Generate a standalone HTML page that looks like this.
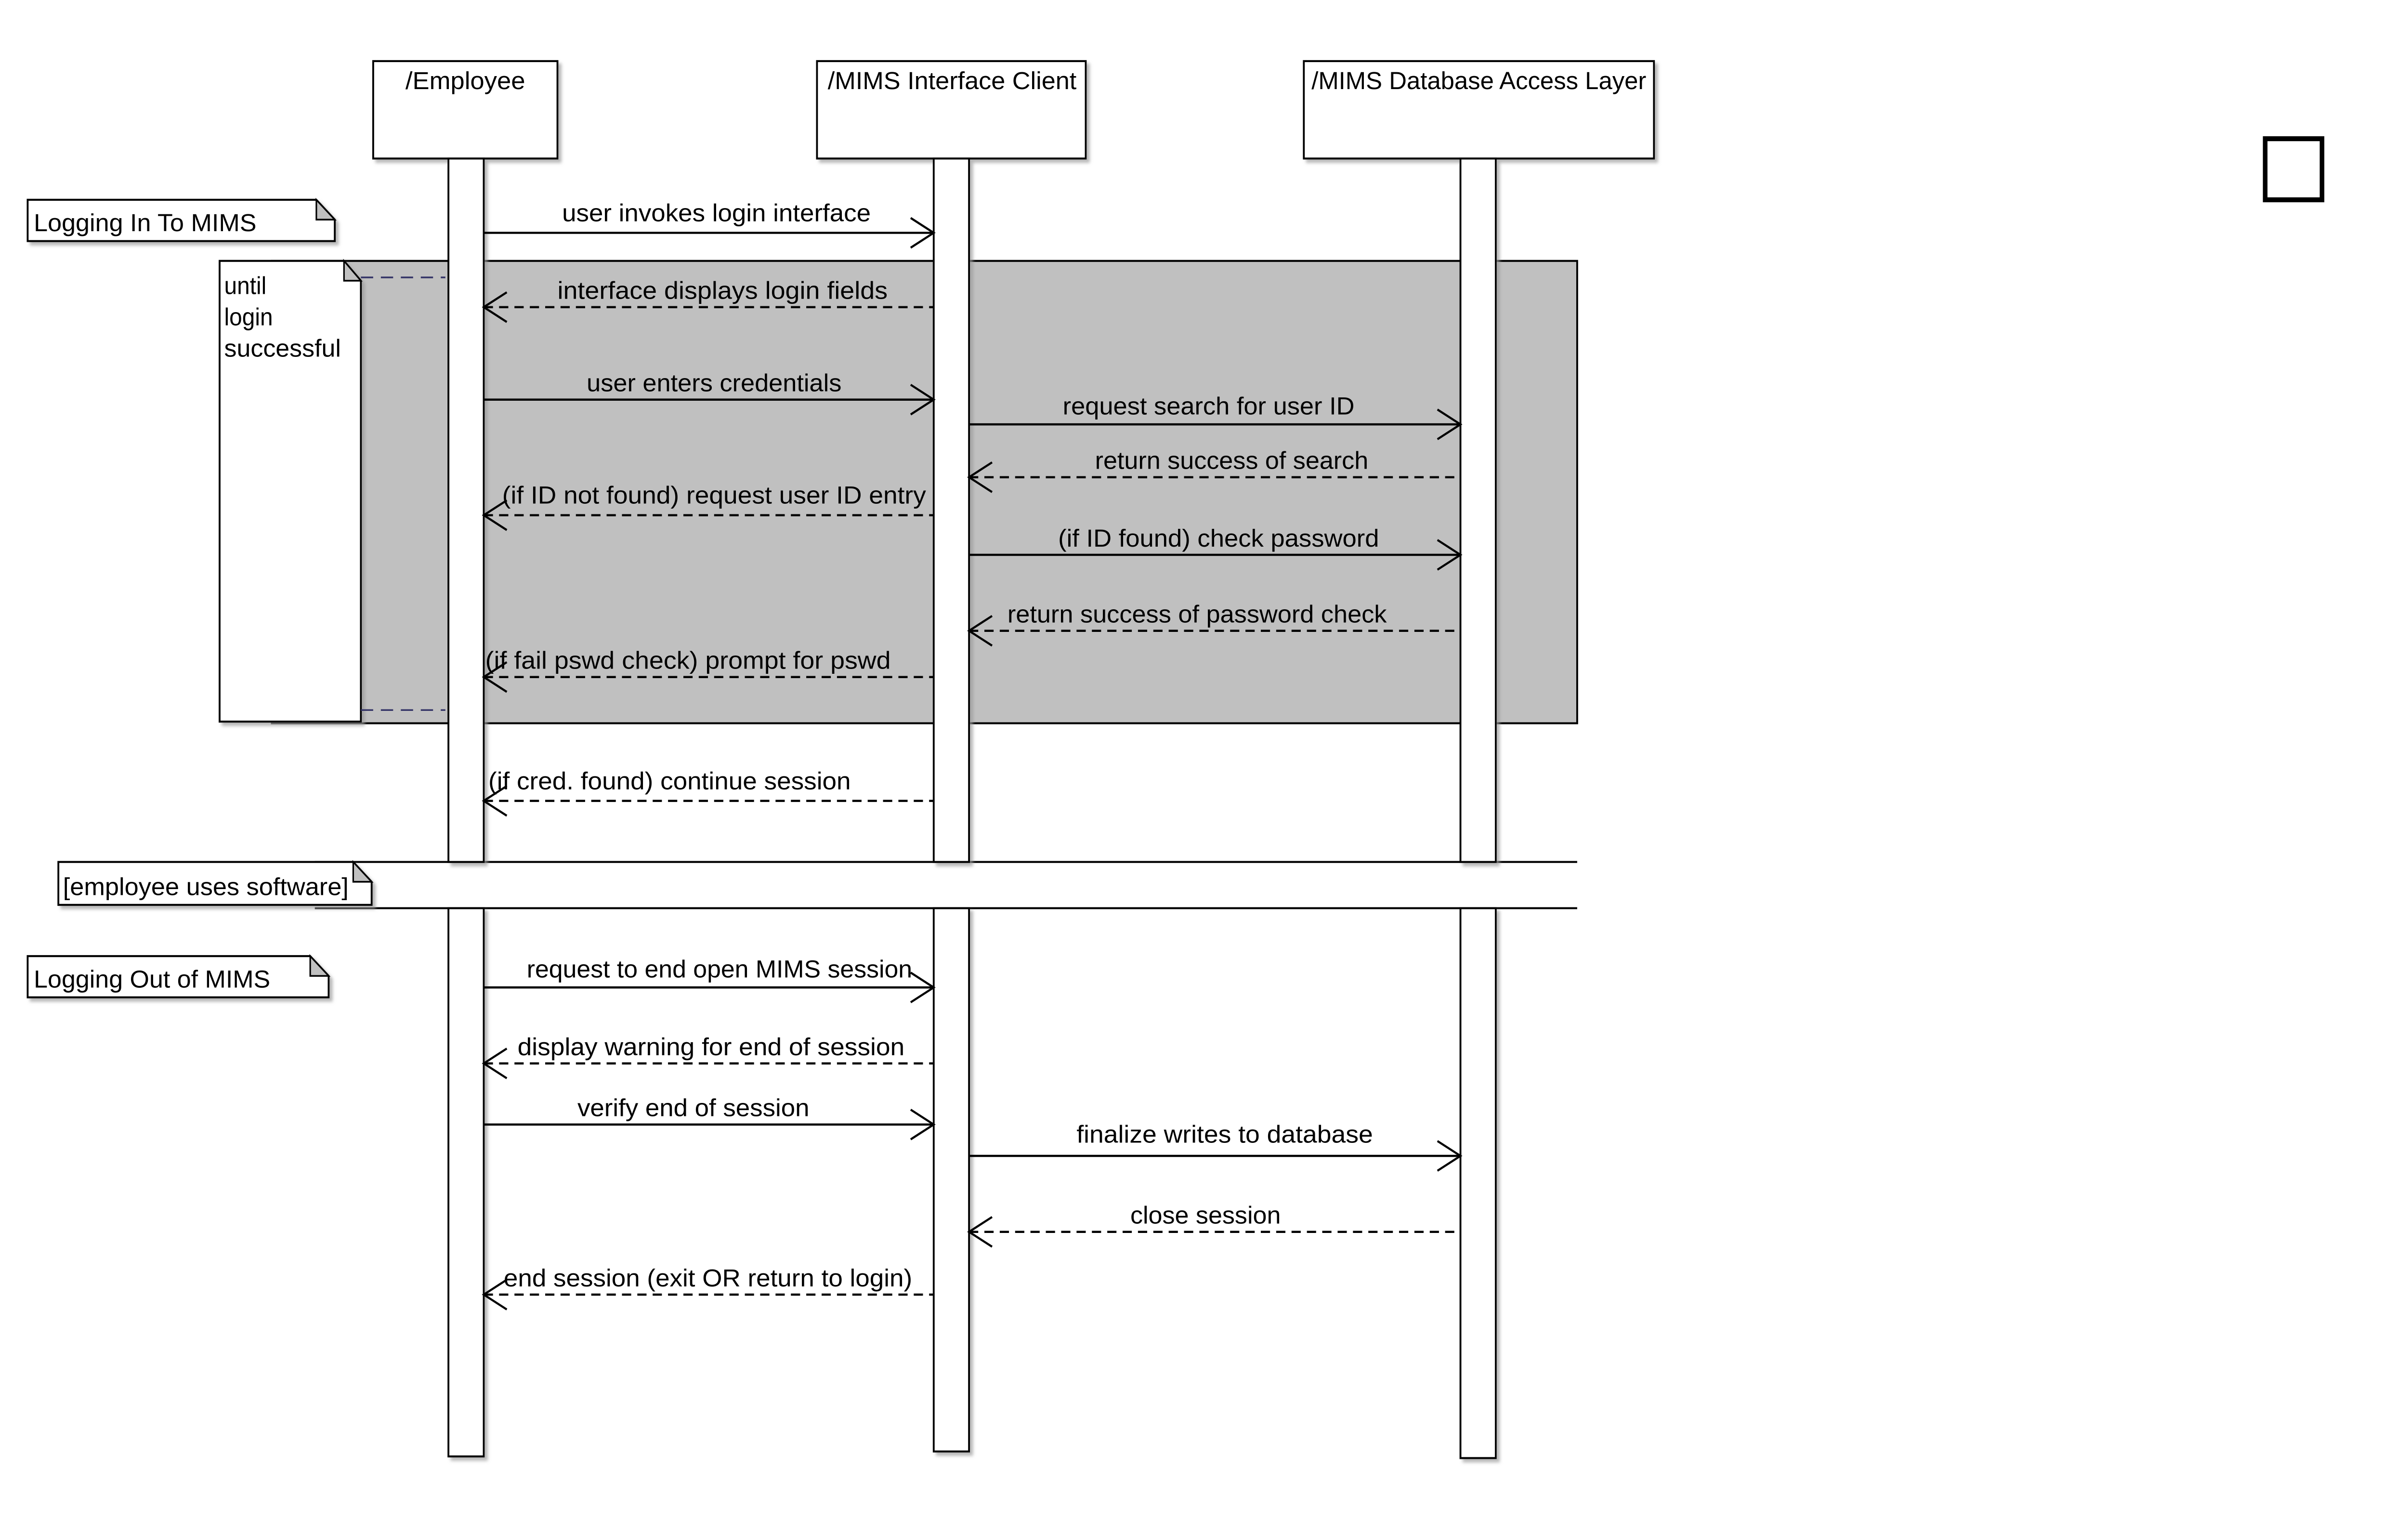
<!DOCTYPE html>
<html><head><meta charset="utf-8"><style>html,body{margin:0;padding:0;background:#fff;overflow:hidden;width:100%;height:100%}svg{display:block;position:fixed;left:0;top:0;width:100vw;height:100vh}</style></head><body>
<svg viewBox="0 0 1568 920.5" preserveAspectRatio="none" xmlns="http://www.w3.org/2000/svg" font-family="Liberation Sans, sans-serif" font-size="15">
<defs>
<filter id="sh" x="-10%" y="-10%" width="130%" height="130%"><feDropShadow dx="2" dy="2" stdDeviation="1" flood-color="#999" flood-opacity="0.7"/></filter>
</defs>
<rect width="1568" height="920.5" fill="#fff"/>
<rect x="177" y="158" width="850" height="280" fill="#c0c0c0" stroke="#000" stroke-width="1.2"/>
<rect x="205" y="522" width="822" height="28" fill="#fff"/>
<line x1="205" y1="522" x2="1027" y2="522" stroke="#000" stroke-width="1.2"/>
<line x1="205" y1="550" x2="1027" y2="550" stroke="#000" stroke-width="1.2"/>
<g fill="#fff" stroke="#000" stroke-width="1.2" filter="url(#sh)">
<rect x="243" y="37" width="120" height="59"/>
<rect x="532" y="37" width="175" height="59"/>
<rect x="849" y="37" width="228" height="59"/>
<rect x="292" y="96" width="23" height="426"/>
<rect x="292" y="550" width="23" height="332"/>
<rect x="608" y="96" width="23" height="426"/>
<rect x="608" y="550" width="23" height="329"/>
<rect x="951" y="96" width="23" height="426"/>
<rect x="951" y="550" width="23" height="333"/>
</g>
<rect x="1475" y="84" width="37" height="37" fill="#fff" stroke="#000" stroke-width="3"/>
<g fill="#000">
<text x="303" y="54" text-anchor="middle" textLength="78" lengthAdjust="spacingAndGlyphs">/Employee</text>
<text x="620" y="54" text-anchor="middle" textLength="162" lengthAdjust="spacingAndGlyphs">/MIMS Interface Client</text>
<text x="963" y="54" text-anchor="middle" textLength="218" lengthAdjust="spacingAndGlyphs">/MIMS Database Access Layer</text>
</g>
<g fill="#fff" stroke="#000" stroke-width="1.2" filter="url(#sh)">
<path d="M18 121 H206 L218 133 V146 H18 Z"/>
<path d="M143 158 H224 L235 170 V437 H143 Z"/>
<path d="M38 522 H230 L242 534 V548 H38 Z"/>
<path d="M18 579 H202 L214 591 V604 H18 Z"/>
</g>
<g fill="#c0c0c0" stroke="#000" stroke-width="1">
<path d="M206 121 V133 H218 Z"/><path d="M224 158 V170 H235 Z"/><path d="M230 522 V534 H242 Z"/><path d="M202 579 V591 H214 Z"/>
</g>
<g fill="#000">
<text x="22" y="140" textLength="145" lengthAdjust="spacingAndGlyphs">Logging In To MIMS</text>
<text x="146" y="178">until</text><text x="146" y="197">login</text><text x="146" y="216" textLength="76" lengthAdjust="spacingAndGlyphs">successful</text>
<text x="41" y="542" textLength="186" lengthAdjust="spacingAndGlyphs">[employee uses software]</text>
<text x="22" y="598" textLength="154" lengthAdjust="spacingAndGlyphs">Logging Out of MIMS</text>
</g>
<line x1="235" y1="168" x2="290" y2="168" stroke="#336" stroke-dasharray="8,5" stroke-width="1"/>
<line x1="235" y1="430" x2="290" y2="430" stroke="#336" stroke-dasharray="8,5" stroke-width="1"/>
<g stroke="#000" stroke-width="1.3" fill="none">
<path d="M315 141 H608 M593 132 L608 141 L593 150"/>
<path d="M315 242 H608 M593 233 L608 242 L593 251"/>
<path d="M631 257 H951 M936 248 L951 257 L936 266"/>
<path d="M631 336 H951 M936 327 L951 336 L936 345"/>
<path d="M315 598 H608 M593 589 L608 598 L593 607"/>
<path d="M315 681 H608 M593 672 L608 681 L593 690"/>
<path d="M631 700 H951 M936 691 L951 700 L936 709"/>
<path d="M330 177 L315 186 L330 195 M330 303 L315 312 L330 321 M330 401 L315 410 L330 419 M330 476 L315 485 L330 494 M330 635 L315 644 L330 653 M330 775 L315 784 L330 793"/>
<path d="M646 280 L631 289 L646 298 M646 373 L631 382 L646 391 M646 737 L631 746 L646 755"/>
</g>
<g stroke="#000" stroke-width="1.3" stroke-dasharray="6,4">
<line x1="315" y1="186" x2="608" y2="186"/><line x1="315" y1="312" x2="608" y2="312"/><line x1="315" y1="410" x2="608" y2="410"/><line x1="315" y1="485" x2="608" y2="485"/><line x1="315" y1="644" x2="608" y2="644"/><line x1="315" y1="784" x2="608" y2="784"/>
<line x1="631" y1="289" x2="951" y2="289"/><line x1="631" y1="382" x2="951" y2="382"/><line x1="631" y1="746" x2="951" y2="746"/>
</g>
<g fill="#000">
<text x="366" y="134" textLength="201" lengthAdjust="spacingAndGlyphs">user invokes login interface</text>
<text x="363" y="181" textLength="215" lengthAdjust="spacingAndGlyphs">interface displays login fields</text>
<text x="382" y="237" textLength="166" lengthAdjust="spacingAndGlyphs">user enters credentials</text>
<text x="692" y="251" textLength="190" lengthAdjust="spacingAndGlyphs">request search for user ID</text>
<text x="713" y="284" textLength="178" lengthAdjust="spacingAndGlyphs">return success of search</text>
<text x="327" y="305" textLength="276" lengthAdjust="spacingAndGlyphs">(if ID not found) request user ID entry</text>
<text x="689" y="331" textLength="209" lengthAdjust="spacingAndGlyphs">(if ID found) check password</text>
<text x="656" y="377" textLength="247" lengthAdjust="spacingAndGlyphs">return success of password check</text>
<text x="316" y="405" textLength="264" lengthAdjust="spacingAndGlyphs">(if fail pswd check) prompt for pswd</text>
<text x="318" y="478" textLength="236" lengthAdjust="spacingAndGlyphs">(if cred. found) continue session</text>
<text x="343" y="592" textLength="251" lengthAdjust="spacingAndGlyphs">request to end open MIMS session</text>
<text x="337" y="639" textLength="252" lengthAdjust="spacingAndGlyphs">display warning for end of session</text>
<text x="376" y="676" textLength="151" lengthAdjust="spacingAndGlyphs">verify end of session</text>
<text x="701" y="692" textLength="193" lengthAdjust="spacingAndGlyphs">finalize writes to database</text>
<text x="736" y="741" textLength="98" lengthAdjust="spacingAndGlyphs">close session</text>
<text x="328" y="779" textLength="266" lengthAdjust="spacingAndGlyphs">end session (exit OR return to login)</text>
</g>
</svg>
</body></html>
